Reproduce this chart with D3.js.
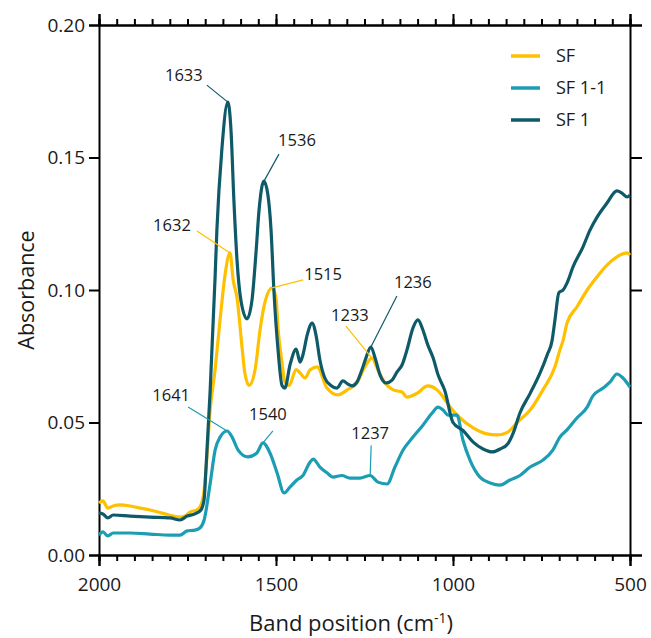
<!DOCTYPE html>
<html>
<head>
<meta charset="utf-8">
<script src="https://cdn.jsdelivr.net/npm/d3@7"></script>
<style>
  body { margin: 0; background: #fff; }
  svg { display: block; font-family: "Open Sans", sans-serif; }
</style>
</head>
<body>
<div id="chart"></div>
<script>
// Spectra (wavenumber in cm-1, absorbance)
const sfWave = [2000, 1989, 1975, 1960, 1941, 1912, 1884, 1856, 1814, 1771, 1757, 1743, 1723, 1712, 1703, 1698, 1686, 1672, 1658, 1644, 1630, 1621, 1610, 1596, 1588, 1576, 1559, 1545, 1531, 1511, 1500, 1494, 1483, 1475, 1463, 1443, 1432, 1418, 1404, 1384, 1356, 1325, 1299, 1271, 1249, 1229, 1212, 1192, 1169, 1144, 1130, 1102, 1071, 1045, 1030, 1017, 1000, 980, 943, 904, 876, 845, 819, 782, 746, 712, 698, 689, 678, 650, 621, 593, 565, 537, 508, 500];
const sfAbs = [0.0196, 0.0204, 0.0177, 0.0185, 0.0189, 0.0185, 0.0177, 0.0170, 0.0155, 0.0143, 0.0147, 0.0162, 0.0170, 0.0189, 0.0245, 0.032, 0.0547, 0.070, 0.0887, 0.1057, 0.114, 0.1038, 0.097, 0.0785, 0.0687, 0.064, 0.070, 0.085, 0.0955, 0.1008, 0.097, 0.085, 0.0725, 0.0653, 0.064, 0.070, 0.0687, 0.0668, 0.0698, 0.071, 0.063, 0.0604, 0.0623, 0.065, 0.071, 0.0743, 0.0698, 0.065, 0.0623, 0.0615, 0.0596, 0.061, 0.0638, 0.0623, 0.060, 0.0575, 0.0545, 0.0517, 0.048, 0.0457, 0.0453, 0.0464, 0.050, 0.0547, 0.0623, 0.071, 0.0774, 0.081, 0.0875, 0.0936, 0.100, 0.105, 0.1094, 0.1125, 0.114, 0.1132];

const sf11Wave = [2000, 1989, 1975, 1960, 1912, 1856, 1799, 1771, 1751, 1729, 1715, 1703, 1686, 1672, 1658, 1638, 1624, 1607, 1579, 1554, 1537, 1517, 1497, 1477, 1460, 1441, 1424, 1404, 1395, 1376, 1356, 1339, 1314, 1291, 1263, 1234, 1212, 1186, 1164, 1141, 1113, 1085, 1059, 1042, 1028, 1014, 989, 972, 952, 924, 895, 867, 839, 811, 782, 746, 718, 698, 678, 650, 621, 605, 576, 556, 537, 520, 500];
const sf11Abs = [0.0075, 0.0087, 0.0072, 0.0083, 0.0083, 0.0079, 0.0075, 0.0075, 0.0091, 0.0094, 0.0102, 0.0132, 0.027, 0.0396, 0.0445, 0.0468, 0.0445, 0.0396, 0.037, 0.0385, 0.0423, 0.0385, 0.031, 0.0234, 0.0257, 0.0283, 0.030, 0.035, 0.0362, 0.0332, 0.031, 0.0294, 0.030, 0.029, 0.029, 0.030, 0.0275, 0.0268, 0.0332, 0.0396, 0.0445, 0.049, 0.0536, 0.0558, 0.0547, 0.0528, 0.0528, 0.0434, 0.0358, 0.0294, 0.0272, 0.0264, 0.0283, 0.030, 0.0332, 0.0358, 0.0396, 0.0445, 0.0472, 0.0517, 0.0558, 0.060, 0.063, 0.0653, 0.0683, 0.0668, 0.0634];

const sf1Wave = [2000, 1989, 1975, 1960, 1912, 1856, 1799, 1771, 1751, 1729, 1712, 1703, 1698, 1686, 1672, 1667, 1653, 1636, 1627, 1619, 1610, 1599, 1582, 1568, 1556, 1548, 1534, 1523, 1514, 1506, 1494, 1483, 1475, 1460, 1443, 1432, 1424, 1412, 1398, 1387, 1376, 1362, 1345, 1328, 1311, 1297, 1285, 1271, 1257, 1246, 1232, 1220, 1206, 1189, 1172, 1158, 1144, 1130, 1113, 1099, 1085, 1071, 1056, 1042, 1023, 1000, 972, 943, 915, 890, 867, 845, 830, 811, 782, 754, 734, 720, 712, 701, 689, 678, 661, 633, 613, 593, 565, 537, 523, 508, 500];
const sf1Abs = [0.0158, 0.0155, 0.0140, 0.0151, 0.0147, 0.0143, 0.0140, 0.0132, 0.0147, 0.0155, 0.0170, 0.021, 0.032, 0.062, 0.105, 0.1226, 0.153, 0.1709, 0.160, 0.134, 0.111, 0.096, 0.0891, 0.096, 0.115, 0.130, 0.1411, 0.136, 0.1226, 0.100, 0.077, 0.064, 0.063, 0.072, 0.0777, 0.0728, 0.0755, 0.0830, 0.0875, 0.0830, 0.0736, 0.0668, 0.064, 0.063, 0.0657, 0.0645, 0.0638, 0.0653, 0.070, 0.0743, 0.0785, 0.0743, 0.0679, 0.0649, 0.0660, 0.0691, 0.0717, 0.0774, 0.0857, 0.0887, 0.0849, 0.0792, 0.0743, 0.0679, 0.062, 0.050, 0.047, 0.0426, 0.040, 0.0389, 0.040, 0.042, 0.046, 0.0536, 0.061, 0.0687, 0.0755, 0.081, 0.0887, 0.099, 0.100, 0.1026, 0.1087, 0.1162, 0.1226, 0.1275, 0.1328, 0.1374, 0.1366, 0.1351, 0.1358];

const seriesNames = ["SF", "SF 1-1", "SF 1"];
const seriesColors = ["#ffc000", "#1c9db4", "#0f5a69"];

// Peak labels: text, series index, peak position
const peakLabels = ["1633", "1536", "1632", "1515", "1233", "1236", "1641", "1540", "1237"];
const peakSeries = [2, 2, 0, 0, 0, 2, 1, 1, 1];
const peakWave = [1636, 1534, 1630, 1511, 1229, 1232, 1638, 1537, 1234];
const peakAbs = [0.1709, 0.1411, 0.114, 0.1008, 0.0743, 0.0785, 0.0468, 0.0423, 0.030];
// leader start offset and text centre offset (px, from peak)
const leaderOffset = [[-21, -17], [15, -27], [-33, -22], [31, -8], [-26, -32], [26, -51], [-39, -24], [10, -12], [1, -30]];
const textOffset = [[-44, -27], [33, -41], [-58, -28], [51, -14], [-22, -43], [42, -65], [-56, -36], [5, -29], [0, -42]];

const xTicksMajor = [2000, 1500, 1000, 500];
const yTicks = [0, 0.05, 0.10, 0.15, 0.20];

const width = 651, height = 638;
const margin = { top: 25, right: 21, bottom: 83, left: 99 };

const svg = d3.select("#chart").append("svg")
  .attr("width", width)
  .attr("height", height);

const x = d3.scaleLinear().domain([2000, 500]).range([margin.left, width - margin.right]);
const y = d3.scaleLinear().domain([0, 0.2]).range([height - margin.bottom, margin.top]);

const minorTicks = d3.range(500, 2001, 50);

function styleAxis(g) {
  g.select(".domain").attr("stroke", "#000").attr("stroke-width", 2);
  g.selectAll(".tick line").attr("stroke", "#000").attr("stroke-width", 2);
  g.selectAll(".tick text")
    .attr("fill", "#1a1a1a")
    .style("font-family", "'Open Sans', sans-serif")
    .style("font-size", "19px");
}

// bottom axis
svg.append("g")
  .attr("transform", `translate(0,${y(0)})`)
  .call(d3.axisBottom(x).tickValues(minorTicks).tickSize(6).tickFormat(""))
  .call(styleAxis);
svg.append("g")
  .attr("transform", `translate(0,${y(0)})`)
  .call(d3.axisBottom(x).tickValues(xTicksMajor).tickSize(11).tickPadding(12).tickFormat(d3.format("d")))
  .call(styleAxis);

// top axis
svg.append("g")
  .attr("transform", `translate(0,${y(0.2)})`)
  .call(d3.axisTop(x).tickValues(minorTicks).tickSize(6).tickFormat(""))
  .call(styleAxis);
svg.append("g")
  .attr("transform", `translate(0,${y(0.2)})`)
  .call(d3.axisTop(x).tickValues(xTicksMajor).tickSize(11).tickFormat(""))
  .call(styleAxis);

// left and right axes
svg.append("g")
  .attr("transform", `translate(${x(2000)},0)`)
  .call(d3.axisLeft(y).tickValues(yTicks).tickSize(10).tickPadding(4).tickFormat(d3.format(".2f")))
  .call(styleAxis);
svg.append("g")
  .attr("transform", `translate(${x(500)},0)`)
  .call(d3.axisRight(y).tickValues(yTicks).tickSize(12).tickFormat(""))
  .call(styleAxis);

// spectra
const line = d3.line()
  .x(d => x(d[0]))
  .y(d => y(d[1]))
  .curve(d3.curveMonotoneX);

const series = [
  d3.zip(sfWave, sfAbs),
  d3.zip(sf11Wave, sf11Abs),
  d3.zip(sf1Wave, sf1Abs)
];

svg.append("g")
  .selectAll("path")
  .data(series)
  .join("path")
  .attr("d", line)
  .attr("fill", "none")
  .attr("stroke", (d, i) => seriesColors[i])
  .attr("stroke-width", 3.2)
  .attr("stroke-linejoin", "round");

// peak annotations
const ann = svg.append("g");
peakLabels.forEach((label, i) => {
  const px = x(peakWave[i]), py = y(peakAbs[i]);
  ann.append("line")
    .attr("x1", px + leaderOffset[i][0])
    .attr("y1", py + leaderOffset[i][1])
    .attr("x2", px)
    .attr("y2", py)
    .attr("stroke", seriesColors[peakSeries[i]])
    .attr("stroke-width", 1.2);
  ann.append("text")
    .attr("x", px + textOffset[i][0])
    .attr("y", py + textOffset[i][1])
    .attr("dy", "0.35em")
    .attr("text-anchor", "middle")
    .attr("fill", "#1a1a1a")
    .style("font-size", "16.5px")
    .text(label);
});

// legend
const legend = svg.append("g").attr("transform", "translate(511,56)");
seriesNames.forEach((name, i) => {
  const g = legend.append("g").attr("transform", `translate(0,${i * 32})`);
  g.append("line")
    .attr("x1", 0).attr("x2", 29)
    .attr("stroke", seriesColors[i])
    .attr("stroke-width", 3.5);
  g.append("text")
    .attr("x", 45)
    .attr("dy", "0.35em")
    .attr("fill", "#1a1a1a")
    .style("font-size", "18px")
    .text(name);
});

// axis titles
const xTitle = svg.append("text")
  .attr("x", 351)
  .attr("y", 631)
  .attr("text-anchor", "middle")
  .attr("fill", "#1a1a1a")
  .style("font-size", "22px");
xTitle.append("tspan").text("Band position (cm");
xTitle.append("tspan").attr("dy", -8).style("font-size", "14px").text("-1");
xTitle.append("tspan").attr("dy", 8).text(")");

svg.append("text")
  .attr("transform", "translate(34,290) rotate(-90)")
  .attr("text-anchor", "middle")
  .attr("fill", "#1a1a1a")
  .style("font-size", "21.5px")
  .text("Absorbance");
</script>
</body>
</html>
